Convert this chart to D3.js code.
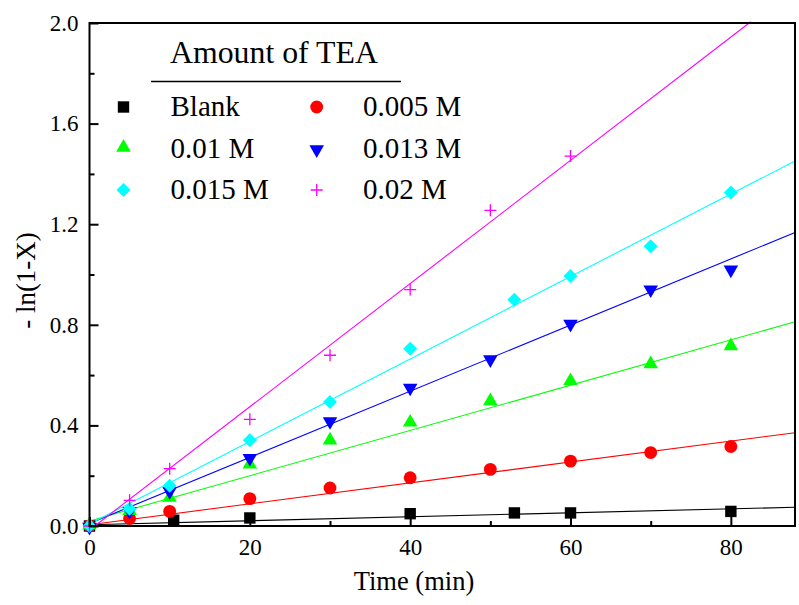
<!DOCTYPE html>
<html>
<head>
<meta charset="utf-8">
<script src="https://cdn.jsdelivr.net/npm/d3@7"></script>
<style>
  html, body { margin: 0; padding: 0; background: #fff; }
  svg { display: block; font-family: "Liberation Serif", "Times New Roman", serif; }
</style>
</head>
<body>
<svg id="chart" width="799" height="605"></svg>
<script>
// ---- Data ----
const seriesNames = ["Blank", "0.005 M", "0.01 M", "0.013 M", "0.015 M", "0.02 M"];
const seriesColors = ["#000000", "#ff0000", "#00ff00", "#0000ff", "#00ffff", "#ff00ff"];
const seriesSymbols = ["square", "circle", "triangle", "triangleDown", "diamond", "plus"];

const blankTime = [0, 10.5, 20, 40, 53, 60, 80];
const blankValues = [0, 0.023, 0.032, 0.049, 0.052, 0.052, 0.058];

const m005Time = [0, 5, 10, 20, 30, 40, 50, 60, 70, 80];
const m005Values = [0, 0.030, 0.058, 0.109, 0.151, 0.192, 0.225, 0.258, 0.292, 0.316];

const m01Time = [0, 5, 10, 20, 30, 40, 50, 60, 70, 80];
const m01Values = [0, 0.056, 0.109, 0.241, 0.337, 0.408, 0.493, 0.573, 0.640, 0.712];

const m013Time = [0, 5, 10, 20, 30, 40, 50, 60, 70, 80];
const m013Values = [0, 0.063, 0.142, 0.274, 0.420, 0.553, 0.666, 0.807, 0.944, 1.023];

const m015Time = [0, 5, 10, 20, 30, 40, 53, 60, 70, 80];
const m015Values = [0, 0.069, 0.160, 0.341, 0.493, 0.705, 0.900, 0.994, 1.112, 1.326];

const m02Time = [0, 5, 10, 20, 30, 40, 50, 60];
const m02Values = [0, 0.102, 0.228, 0.424, 0.679, 0.940, 1.255, 1.471];

// linear fit lines  y = intercept + slope * t
const fitSlopes = [0.00079, 0.00416, 0.0090, 0.01315, 0.0164, 0.0245];
const fitIntercepts = [0.005, 0.005, 0.02, 0.01, 0.008, -0.016];

const xMajorTicks = [0, 20, 40, 60, 80];
const xMinorTicks = [10, 30, 50, 70];
const yMajorTicks = [0.0, 0.4, 0.8, 1.2, 1.6, 2.0];
const yMinorTicks = [0.2, 0.6, 1.0, 1.4, 1.8];

const xTitle = "Time (min)";
const yTitle = "- ln(1-X)";
const legendTitle = "Amount of TEA";

// ---- Build ----
(function () {
const allTimes = [blankTime, m005Time, m01Time, m013Time, m015Time, m02Time];
const allValues = [blankValues, m005Values, m01Values, m013Values, m015Values, m02Values];
const series = seriesNames.map((name, i) => ({
  name, color: seriesColors[i], symbol: seriesSymbols[i],
  points: allTimes[i].map((t, j) => ({ t, v: allValues[i][j] })),
  slope: fitSlopes[i], intercept: fitIntercepts[i]
}));

const svg = d3.select("#chart");
const pL = 89.5, pR = 795, pT = 23, pB = 526;
const xDomainMax = 88, yDomainMax = 2.0;
const x = d3.scaleLinear().domain([0, xDomainMax]).range([pL, pR]);
const y = d3.scaleLinear().domain([0, yDomainMax]).range([pB, pT]);

function symbolPath(type) {
  switch (type) {
    case "square": return d3.symbol(d3.symbolSquare, 130)();
    case "circle": return d3.symbol(d3.symbolCircle, 130)();
    case "triangle": return d3.symbol(d3.symbolTriangle, 92)();
    case "triangleDown": return d3.symbol(d3.symbolTriangle, 92)();
    case "diamond": return d3.symbol(d3.symbolSquare, 98)();
    case "plus": return "M-6,0H6M0,-6V6";
  }
}
function symbolTransform(type, px, py) {
  if (type === "triangleDown") return `translate(${px},${py + 1}) rotate(180)`;
  if (type === "triangle") return `translate(${px},${py - 1})`;
  if (type === "diamond") return `translate(${px},${py}) rotate(45)`;
  return `translate(${px},${py})`;
}
function drawSymbol(g, s, px, py) {
  const p = g.append("path")
    .attr("d", symbolPath(s.symbol))
    .attr("transform", symbolTransform(s.symbol, px, py));
  if (s.symbol === "plus") {
    p.attr("fill", "none").attr("stroke", s.color).attr("stroke-width", 1.3);
  } else {
    p.attr("fill", s.color).attr("stroke", "none");
  }
}

// Fit lines
const lineGen = d3.line().x(d => x(d[0])).y(d => y(d[1]));
const linesG = svg.append("g");
series.forEach(s => {
  const tEnd = Math.min(xDomainMax, (yDomainMax + 0.005 - s.intercept) / s.slope);
  linesG.append("path")
    .attr("d", lineGen([[0, s.intercept], [tEnd, s.intercept + s.slope * tEnd]]))
    .attr("fill", "none")
    .attr("stroke", s.color)
    .attr("stroke-width", 1.1);
});

// Markers
const markG = svg.append("g");
series.forEach(s => {
  const g = markG.append("g");
  s.points.forEach(p => drawSymbol(g, s, x(p.t), y(p.v)));
});

// Axes (ticks inward)
const axisStyle = g => {
  g.selectAll(".domain").remove();
  g.selectAll("line").attr("stroke", "#000").attr("stroke-width", 2);
  g.selectAll("text").attr("font-family", "Liberation Serif, serif").attr("font-size", 23).attr("fill", "#000");
};
svg.append("g").attr("transform", `translate(0,${pB})`)
  .call(d3.axisBottom(x).tickValues(xMajorTicks).tickFormat(d3.format("d")).tickSizeInner(-9).tickSizeOuter(0).tickPadding(13))
  .call(axisStyle);
svg.append("g").attr("transform", `translate(0,${pB})`)
  .call(d3.axisBottom(x).tickValues(xMinorTicks).tickFormat("").tickSizeInner(-5).tickSizeOuter(0))
  .call(axisStyle);
svg.append("g").attr("transform", `translate(${pL},0)`)
  .call(d3.axisLeft(y).tickValues(yMajorTicks).tickFormat(d3.format(".1f")).tickSizeInner(-9).tickSizeOuter(0).tickPadding(11))
  .call(axisStyle);
svg.append("g").attr("transform", `translate(${pL},0)`)
  .call(d3.axisLeft(y).tickValues(yMinorTicks).tickFormat("").tickSizeInner(-5).tickSizeOuter(0))
  .call(axisStyle);

// Frame
svg.append("rect")
  .attr("x", pL).attr("y", pT)
  .attr("width", pR - pL).attr("height", pB - pT)
  .attr("fill", "none").attr("stroke", "#000").attr("stroke-width", 2);

// Axis titles
svg.append("text")
  .attr("x", 414).attr("y", 590)
  .attr("text-anchor", "middle")
  .attr("font-size", 26.5)
  .text(xTitle);
svg.append("text")
  .attr("transform", `translate(35,${(pT + pB) / 2 + 6}) rotate(-90)`)
  .attr("text-anchor", "middle")
  .attr("font-size", 27)
  .text(yTitle);

// Legend
const legend = svg.append("g");
legend.append("text")
  .attr("x", 170).attr("y", 63)
  .attr("font-size", 31.8)
  .text(legendTitle);
legend.append("line")
  .attr("x1", 151).attr("x2", 401)
  .attr("y1", 81.5).attr("y2", 81.5)
  .attr("stroke", "#000").attr("stroke-width", 1.5);
const rowBase = [116, 157.5, 199];
const colSym = [123.5, 316.7];
const colText = [170.5, 363];
series.forEach((s, i) => {
  const row = Math.floor(i / 2), col = i % 2;
  const g = legend.append("g");
  drawSymbol(g, s, colSym[col], rowBase[row] - 9);
  legend.append("text")
    .attr("x", colText[col]).attr("y", rowBase[row])
    .attr("font-size", 29)
    .text(s.name);
});
})();
</script>
</body>
</html>
